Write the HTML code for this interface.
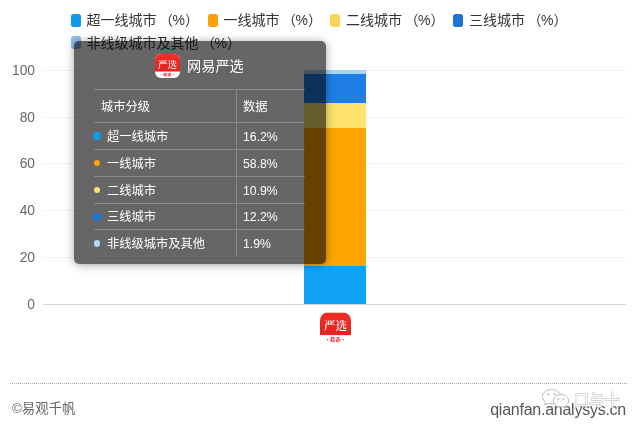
<!DOCTYPE html>
<html lang="zh">
<head>
<meta charset="utf-8">
<title>城市分级</title>
<style>
html,body{margin:0;padding:0;background:#fff;}
body{width:640px;height:427px;position:relative;overflow:hidden;font-family:"Liberation Sans","Noto Sans CJK SC",sans-serif;}
.abs{position:absolute;}
.lg{position:absolute;margin-top:-0.5px;height:20px;line-height:20px;font-size:14px;color:#333;white-space:nowrap;}
.pc{margin-left:2.5px;letter-spacing:-0.4px}
.sw{position:absolute;width:9.8px;height:13.6px;border-radius:2.5px;}
.yl{position:absolute;left:0;width:35px;text-align:right;font-size:13.8px;color:#666;height:16px;line-height:16px;}
.grid{position:absolute;left:43px;width:583px;height:1px;background:#f3f3f3;}
.seg{position:absolute;left:304px;width:62px;}
#tip{position:absolute;left:74px;top:41px;width:252px;height:223.2px;background:rgba(0,0,0,0.6);border-radius:5px;box-shadow:0 1px 10px rgba(0,0,0,0.36);color:#fff;}
#tip .title{position:absolute;left:113px;top:14px;height:22px;line-height:22px;font-size:14.2px;white-space:nowrap;}
.hl{position:absolute;left:20px;width:211px;height:1px;background:rgba(255,255,255,0.22);}
.vl{position:absolute;left:162px;top:49px;width:1px;height:166px;background:rgba(255,255,255,0.22);}
.c1{position:absolute;left:33px;font-size:12.25px;height:18px;line-height:18px;white-space:nowrap;}
.c2{position:absolute;left:169px;font-size:12.25px;height:18px;line-height:18px;white-space:nowrap;}
.dot{position:absolute;left:19.5px;width:6.5px;height:6.5px;border-radius:50%;}
.foot{position:absolute;font-size:13px;color:#666;white-space:nowrap;}
</style>
</head>
<body>
<!-- legend -->
<div class="sw" style="left:71px;top:13.6px;background:#0E9AE8"></div><div class="lg" style="left:86.5px;top:10.5px">超一线城市<span class="pc">（</span>%）</div>
<div class="sw" style="left:207.9px;top:13.6px;background:#FF9F0A"></div><div class="lg" style="left:223.5px;top:10.5px">一线城市<span class="pc">（</span>%）</div>
<div class="sw" style="left:330.3px;top:13.6px;background:#FAD55C"></div><div class="lg" style="left:346px;top:10.5px">二线城市<span class="pc">（</span>%）</div>
<div class="sw" style="left:452.8px;top:13.6px;background:#1B74D6"></div><div class="lg" style="left:469px;top:10.5px">三线城市<span class="pc">（</span>%）</div>
<div class="sw" style="left:71px;top:35.8px;background:#8FBEEE"></div><div class="lg" style="left:86.5px;top:33px">非线级城市及其他<span class="pc">（</span>%）</div>

<!-- grid + y axis -->
<div class="grid" style="top:70px"></div>
<div class="grid" style="top:117px"></div>
<div class="grid" style="top:163px"></div>
<div class="grid" style="top:210px"></div>
<div class="grid" style="top:257px"></div>
<div class="grid" style="top:304px;background:#d4d4d4"></div>
<div class="yl" style="top:62.5px">100</div>
<div class="yl" style="top:109.5px">80</div>
<div class="yl" style="top:155.5px">60</div>
<div class="yl" style="top:202.5px">40</div>
<div class="yl" style="top:249.5px">20</div>
<div class="yl" style="top:296.5px">0</div>

<!-- bar -->
<div class="seg" style="top:70px;height:5px;background:#A3D8FA"></div>
<div class="seg" style="top:74px;height:29px;background:#1E7EE6"></div>
<div class="seg" style="top:103px;height:26px;background:#FDE36D"></div>
<div class="seg" style="top:128px;height:138px;background:#FFA502"></div>
<div class="seg" style="top:266px;height:38px;background:#12A4F4"></div>

<!-- x icon -->
<svg class="abs" style="left:320px;top:312px" width="31" height="32" viewBox="0 0 100 100">
<defs><clipPath id="rc"><rect x="0" y="0" width="100" height="100" rx="25" ry="25"/></clipPath>
<linearGradient id="rg" x1="0" y1="0" x2="0" y2="1"><stop offset="0" stop-color="#F22D22"/><stop offset="1" stop-color="#E32424"/></linearGradient></defs>
<g clip-path="url(#rc)"><rect width="100" height="100" fill="#fff"/><rect width="100" height="73" fill="url(#rg)"/></g>
<text x="50" y="57" text-anchor="middle" font-family="'Noto Serif CJK SC','Noto Sans CJK SC',serif" font-weight="600" font-size="38" fill="#fff">严选</text>
<text x="50" y="92" text-anchor="middle" font-family="'Noto Sans CJK SC',sans-serif" font-weight="700" font-size="16" letter-spacing="1" fill="#E5222C">·精选·</text>
</svg>

<!-- footer -->
<div class="abs" style="left:10px;top:383px;width:617px;height:0;border-top:1px dotted #a8a8a8"></div>
<div class="foot" style="left:12px;top:399.5px;height:18px;line-height:18px;font-size:13.4px">©易观千帆</div>
<div class="foot" style="right:14px;top:399.5px;height:20px;line-height:20px;font-size:16px;letter-spacing:-0.25px;color:#555">qianfan.analysys.cn</div>

<!-- tooltip -->
<div id="tip">
<svg class="abs" style="left:81.2px;top:13px" width="25" height="24" viewBox="0 0 100 100" preserveAspectRatio="none">
<defs><clipPath id="rc2"><rect x="0" y="0" width="100" height="100" rx="25" ry="25"/></clipPath></defs>
<g clip-path="url(#rc2)"><rect width="100" height="100" fill="#fff"/><rect width="100" height="73" fill="url(#rg)"/></g>
<text x="50" y="57" text-anchor="middle" font-family="'Noto Serif CJK SC','Noto Sans CJK SC',serif" font-weight="600" font-size="38" fill="#fff">严选</text>
<text x="50" y="92" text-anchor="middle" font-family="'Noto Sans CJK SC',sans-serif" font-weight="700" font-size="16" letter-spacing="1" fill="#E5222C">·精选·</text>
</svg>
<div class="title">网易严选</div>
<div class="hl" style="top:48px"></div>
<div class="hl" style="top:81px"></div>
<div class="hl" style="top:108px"></div>
<div class="hl" style="top:134.5px"></div>
<div class="hl" style="top:161.5px"></div>
<div class="hl" style="top:188px"></div>
<div class="hl" style="top:215px;background:rgba(255,255,255,0.05)"></div>
<div class="vl"></div>
<div class="c1" style="left:27px;top:57px">城市分级</div><div class="c2" style="top:57px">数据</div>
<div class="dot" style="top:91px;left:19px;width:7.5px;height:7.5px;background:#109CE4"></div><div class="c1" style="top:87px">超一线城市</div><div class="c2" style="top:87px">16.2%</div>
<div class="dot" style="top:118.75px;background:#FFA502"></div><div class="c1" style="top:113.75px">一线城市</div><div class="c2" style="top:113.75px">58.8%</div>
<div class="dot" style="top:145.5px;background:#FDE36D"></div><div class="c1" style="top:140.5px">二线城市</div><div class="c2" style="top:140.5px">10.9%</div>
<div class="dot" style="top:172px;left:19px;width:7.5px;height:7.5px;background:#1E78DA"></div><div class="c1" style="top:167.25px">三线城市</div><div class="c2" style="top:167.25px">12.2%</div>
<div class="dot" style="top:199px;background:#B5D9F8"></div><div class="c1" style="top:194px">非线级城市及其他</div><div class="c2" style="top:194px">1.9%</div>
</div>

<!-- watermark -->
<svg class="abs" style="left:538px;top:384px" width="92" height="28" viewBox="0 0 92 28">
<g fill="#fff" stroke="#b8b8b8" stroke-width="1">
<path d="M13.5 5.5c-5 0-9 3.200-9 7.200 0 2.200 1.200 4.100 3.100 5.400l-0.900 2.800 3.300-1.700c1.100 0.400 2.300 0.600 3.500 0.600 5 0 9-3.200 9-7.100 0-4-4-7.200-9-7.200z"/>
<path d="M23 10.500c-4.300 0-7.700 2.800-7.700 6.200 0 3.400 3.400 6.200 7.700 6.200 0.900 0 1.800-0.100 2.600-0.400l2.700 1.400-0.700-2.300c1.900-1.200 3.100-2.900 3.100-4.900 0-3.400-3.400-6.200-7.700-6.200z"/>
</g>
<g fill="#b8b8b8"><circle cx="10.300" cy="10.300" r="1.100"/><circle cx="16.500" cy="10.300" r="1.100"/><circle cx="20.500" cy="15" r="0.900"/><circle cx="25.500" cy="15" r="0.900"/></g>
<text x="35.500" y="21.500" font-family="'Noto Sans CJK SC',sans-serif" font-size="15.5" fill="#fff" stroke="#b4b4b4" stroke-width="0.9" paint-order="stroke">口与十</text>
</svg>
</body>
</html>
